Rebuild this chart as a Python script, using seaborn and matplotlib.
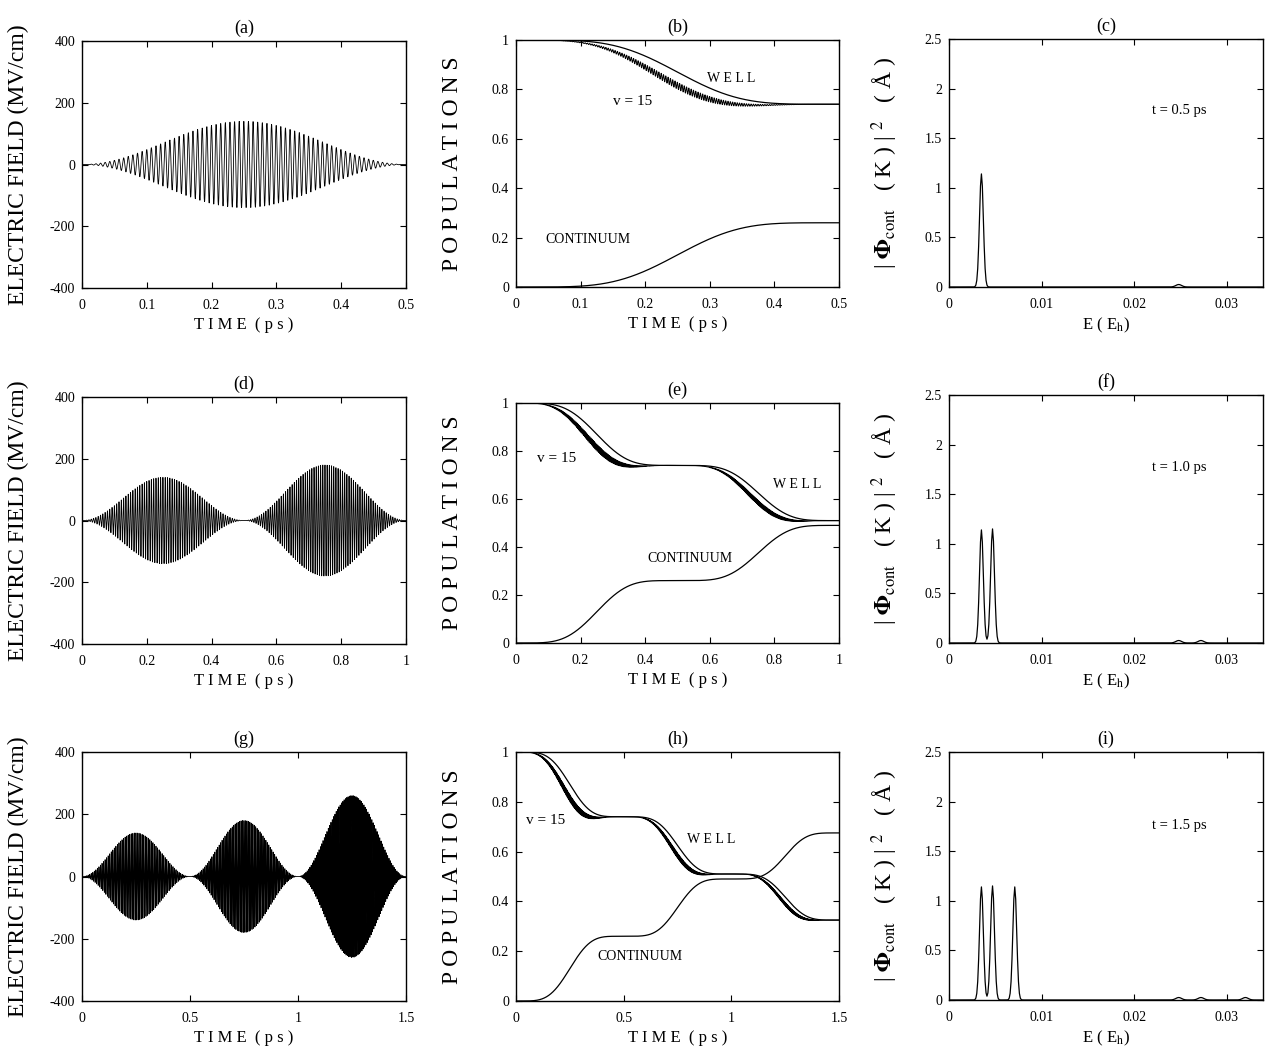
import numpy as np
import matplotlib
matplotlib.use("Agg")
import matplotlib.pyplot as plt
import seaborn as sns
from matplotlib.ticker import FuncFormatter, MultipleLocator

# ---------------- data ----------------
# laser pulses: time windows (ps), peak field (MV/cm), photon energy (Eh)
pulse_start = [0.0, 0.5, 1.0]
pulse_end = [0.5, 1.0, 1.5]
pulse_peak = [140, 180, 260]
photon_energy = [0.0213, 0.0225, 0.0249]

# populations reached after each pulse
well_levels = [1.0, 0.74, 0.51, 0.325]
cont_levels = [0.0, 0.26, 0.49, 0.675]
v15_depletion = 0.055     # extra depletion of v=15 relative to the well at pulse peak
v15_ripple = 0.25         # relative ripple of that depletion

# continuum energy distribution: main peaks and weak two-photon peaks (Eh)
spec_main_E = [0.0035, 0.0047, 0.0071]
spec_main_h = [1.14, 1.15, 1.14]
spec_side_E = [0.0248, 0.0272, 0.0320]
spec_side_h = [0.025, 0.025, 0.025]
spec_width = 0.00021

final_times = ["t = 0.5 ps", "t = 1.0 ps", "t = 1.5 ps"]
field_ticks = [-400, -200, 0, 200, 400]
pop_ticks = [0, 0.2, 0.4, 0.6, 0.8, 1.0]
spec_ticks_y = [0, 0.5, 1, 1.5, 2, 2.5]
spec_ticks_x = [0, 0.01, 0.02, 0.03]
time_tick_step = [0.1, 0.2, 0.5]
panel_tags = [["(a)", "(b)", "(c)"], ["(d)", "(e)", "(f)"], ["(g)", "(h)", "(i)"]]

# label positions (data coordinates) for the population panels
well_xy = [(0.333, 0.846), (0.87, 0.662), (0.906, 0.65)]
v15_xy = [(0.18, 0.749), (0.127, 0.767), (0.139, 0.723)]
cont_xy = [(0.111, 0.194), (0.54, 0.354), (0.577, 0.177)]
spec_text_xy = [(0.0249, 1.78), (0.0249, 1.77), (0.0249, 1.76)]

# --------------- physics helpers ---------------
EH_TO_RAD_PER_PS = 27.211386 / 6.582119569e-4


def pulse_phase(t, k):
    u = np.clip((t - pulse_start[k]) / (pulse_end[k] - pulse_start[k]), 0.0, 1.0) * np.pi
    return u


def field(t, n):
    e = np.zeros_like(t)
    for k in range(n):
        u = pulse_phase(t, k)
        w = photon_energy[k] * EH_TO_RAD_PER_PS
        e += pulse_peak[k] * np.sin(u) ** 2 * np.cos(w * (t - pulse_start[k]))
    return e


def transfer(u):
    # normalised integrated intensity of a sin^2 pulse
    return (3 * u / 8 - np.sin(2 * u) / 4 + np.sin(4 * u) / 32) / (3 * np.pi / 8)


def populations(t, n):
    well = np.full_like(t, well_levels[0])
    cont = np.full_like(t, cont_levels[0])
    v15 = np.zeros_like(t)
    for k in range(n):
        u = pulse_phase(t, k)
        f = transfer(u)
        well += (well_levels[k + 1] - well_levels[k]) * f
        cont += (cont_levels[k + 1] - cont_levels[k]) * f
        w = photon_energy[k] * EH_TO_RAD_PER_PS
        v15 += v15_depletion * well_levels[k] * np.sin(u) ** 4 * (
            1 - v15_ripple * np.cos(2 * w * (t - pulse_start[k])))
    return well, well - v15, cont


def spectrum(E, n):
    s = np.zeros_like(E)
    for k in range(n):
        s += spec_main_h[k] * np.exp(-0.5 * ((E - spec_main_E[k]) / spec_width) ** 2)
        s += spec_side_h[k] * np.exp(-0.5 * ((E - spec_side_E[k]) / (1.5 * spec_width)) ** 2)
    return s


# --------------- styling ---------------
sns.set_theme(style="ticks")
plt.rcParams["font.family"] = ["Liberation Serif", "DejaVu Serif"]
plt.rcParams["mathtext.fontset"] = "stix"
plt.rcParams["axes.linewidth"] = 1.0
plt.rcParams["axes.edgecolor"] = "black"

W, H = 1265, 1048
fig = plt.figure(figsize=(W / 100, H / 100), dpi=100)

col_left = [82, 516, 949]
col_right = [406, 839, 1263]
row_top = [[41, 40, 39], [397, 403, 395], [752, 752, 752]]
row_bot = [[288, 287, 287], [644, 643, 643], [1001, 1001, 1000]]


def add_axes(r, c):
    l, rr = col_left[c], col_right[c]
    t, b = row_top[r][c], row_bot[r][c]
    return fig.add_axes([l / W, 1 - b / H, (rr - l) / W, (b - t) / H])


fmt = FuncFormatter(lambda v, p: f"{v:g}")
INK = "black"
spaced_time = "T I M E  ( p s )"


def style(ax, tag):
    ax.tick_params(direction="in", top=True, right=True, length=4, width=0.8,
                   labelsize=10, colors=INK)
    ax.tick_params(axis="x", pad=8)
    ax.tick_params(axis="y", pad=5)
    ax.xaxis.set_major_formatter(fmt)
    ax.yaxis.set_major_formatter(fmt)
    ax.set_title(tag, fontsize=13, pad=6, color=INK)
    ax.set_xlabel("")
    ax.set_ylabel("")
    for s in ax.spines.values():
        s.set_color(INK)
        s.set_linewidth(1.0)


def ylabel_at(ax, xpx, text, size):
    bb = ax.get_position()
    left = bb.x0 * W
    width = bb.width * W
    ax.text((xpx - left) / width, 0.5, text, rotation=90, ha="center", va="center",
            transform=ax.transAxes, fontsize=size, color=INK)


def xlabel_at(ax, off_px, text, size):
    bb = ax.get_position()
    height = bb.height * H
    ax.text(0.5, -off_px / height, text, ha="center", va="center",
            transform=ax.transAxes, fontsize=size, color=INK)


for r in range(3):
    n = r + 1
    tmax = pulse_end[r]
    t = np.arange(0, tmax + 1e-9, 0.0002)

    # electric field
    ax = add_axes(r, 0)
    sns.lineplot(x=t, y=field(t, n), ax=ax, color=INK, linewidth=0.6,
                 estimator=None, sort=False)
    ax.set_xlim(0, tmax)
    ax.set_ylim(-400, 400)
    ax.set_yticks(field_ticks)
    ax.xaxis.set_major_locator(MultipleLocator(time_tick_step[r]))
    style(ax, panel_tags[r][0])
    ylabel_at(ax, 18, "ELECTRIC FIELD (MV/cm)", 17)
    xlabel_at(ax, 37, spaced_time, 12)

    # populations
    ax = add_axes(r, 1)
    well, v15, cont = populations(t, n)
    sns.lineplot(x=t, y=well, ax=ax, color=INK, linewidth=0.9, estimator=None, sort=False)
    sns.lineplot(x=t, y=v15, ax=ax, color=INK, linewidth=0.7, estimator=None, sort=False)
    sns.lineplot(x=t, y=cont, ax=ax, color=INK, linewidth=0.9, estimator=None, sort=False)
    ax.set_xlim(0, tmax)
    ax.set_ylim(0, 1)
    ax.set_yticks(pop_ticks)
    ax.xaxis.set_major_locator(MultipleLocator(time_tick_step[r]))
    style(ax, panel_tags[r][1])
    ax.text(*well_xy[r], "W E L L", ha="center", va="center", fontsize=10, color=INK)
    ax.text(*v15_xy[r], "v = 15", ha="center", va="center", fontsize=11, color=INK)
    ax.text(*cont_xy[r], "CONTINUUM", ha="center", va="center", fontsize=10, color=INK)
    ylabel_at(ax, 452, "P O P U L A T I O N S", 17)
    xlabel_at(ax, 37, spaced_time, 12)

    # continuum energy distribution
    ax = add_axes(r, 2)
    E = np.round(np.arange(0, 0.0339 + 1e-9, 0.0001), 5)
    sns.lineplot(x=E, y=spectrum(E, n), ax=ax, color=INK, linewidth=0.9,
                 estimator=None, sort=False)
    ax.set_xlim(0, 0.0339)
    ax.set_ylim(0, 2.5)
    ax.set_xticks(spec_ticks_x)
    ax.set_yticks(spec_ticks_y)
    style(ax, panel_tags[r][2])
    ax.text(*spec_text_xy[r], final_times[r], ha="center", va="center",
            fontsize=10.5, color=INK)
    ylabel_at(ax, 885,
              r"| $\mathbf{\Phi}_{\mathrm{cont}}$   ( K ) | $^{2}$   ( Å )", 17)
    xlabel_at(ax, 38, r"E ( E$_{\mathrm{h}}$)", 12)

fig.savefig("out.png", dpi=100, facecolor="white")
